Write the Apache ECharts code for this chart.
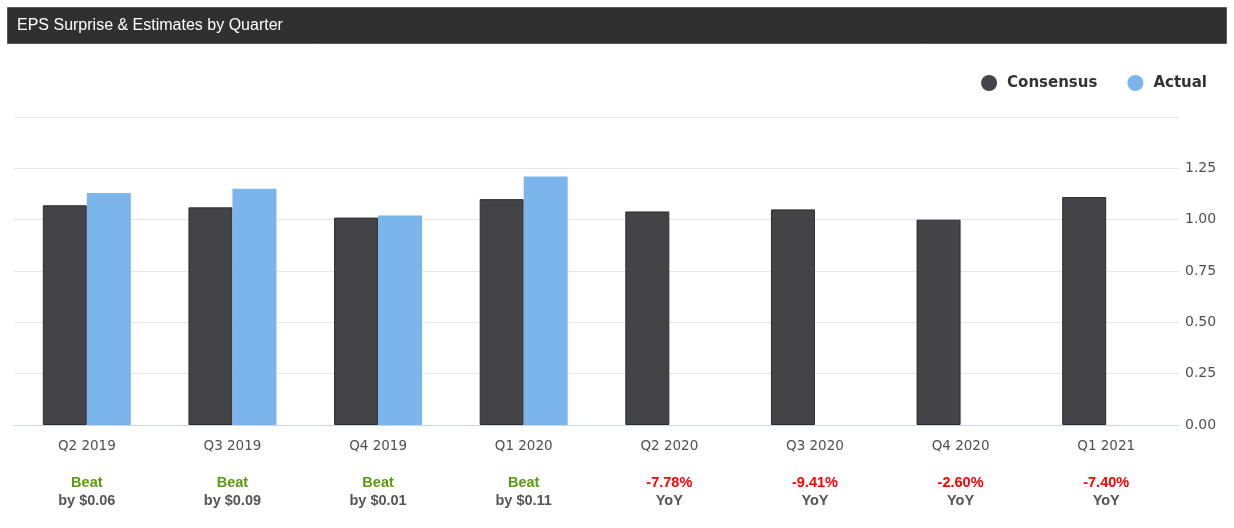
<!DOCTYPE html>
<html>
<head>
<meta charset="utf-8">
<script src="https://cdn.jsdelivr.net/npm/echarts@6/dist/echarts.min.js"></script>
<style>
html,body{margin:0;padding:0;background:#fff;}
#chart{width:1234px;height:528px;}
</style>
</head>
<body>
<div id="chart"></div>
<script>
const categories = ['Q2 2019','Q3 2019','Q4 2019','Q1 2020','Q2 2020','Q3 2020','Q4 2020','Q1 2021'];
const consensus = [1.07, 1.06, 1.01, 1.10, 1.04, 1.05, 1.00, 1.11];
const actual = [1.13, 1.15, 1.02, 1.21, null, null, null, null];
const noteTop = ['Beat','Beat','Beat','Beat','-7.78%','-9.41%','-2.60%','-7.40%'];
const noteBottom = ['by $0.06','by $0.09','by $0.01','by $0.11','YoY','YoY','YoY','YoY'];
const noteKind = ['g','g','g','g','r','r','r','r'];
const yTicks = [0, 0.25, 0.5, 0.75, 1.0, 1.25, 1.5];

const chart = echarts.init(document.getElementById('chart'));
chart.setOption({
  animation: false,
  backgroundColor: '#ffffff',
  graphic: [
    {type:'rect', left:7, top:7, shape:{width:1219, height:36}, style:{fill:'#303030', stroke:'#5a5a5a', lineWidth:1}},
    {type:'text', left:17, top:18, style:{text:'EPS Surprise & Estimates by Quarter', fill:'#ffffff', font:'16px "Liberation Sans", Arial, sans-serif'}}
  ],
  legend: {
    right: 22, top: 70,
    icon: 'circle',
    itemWidth: 16, itemHeight: 16,
    itemGap: 30,
    itemStyle: {borderWidth: 0},
    textStyle: {fontFamily:'"DejaVu Sans", sans-serif', fontWeight:'bold', fontSize:15, color:'#333333', padding:[0,0,0,5]},
    data: ['Consensus','Actual']
  },
  grid: {left:14, right:55, top:117, bottom:103},
  xAxis: {
    type: 'category',
    data: categories,
    axisLine: {lineStyle:{color:'#ccd6eb', width:1}},
    axisTick: {alignWithLabel:true, length:10, lineStyle:{color:'#ccd6eb'}},
    axisLabel: {
      margin: 11,
      interval: 0,
      formatter: function(v, i){ return '{q|' + v + '}\n{sp|}\n{' + noteKind[i] + '|' + noteTop[i] + '}\n{b|' + noteBottom[i] + '}'; },
      rich: {
        q: {fontFamily:'"DejaVu Sans", sans-serif', fontSize:13.5, color:'#505050', lineHeight:20},
        sp: {lineHeight:18, fontSize:10},
        g: {fontFamily:'"Liberation Sans", Arial, sans-serif', fontWeight:'bold', fontSize:14.5, color:'#5a9a0e', lineHeight:18},
        r: {fontFamily:'"Liberation Sans", Arial, sans-serif', fontWeight:'bold', fontSize:14.5, color:'#ff0000', lineHeight:18},
        b: {fontFamily:'"Liberation Sans", Arial, sans-serif', fontWeight:'bold', fontSize:14.5, color:'#555555', lineHeight:18}
      }
    }
  },
  yAxis: {
    type: 'value',
    position: 'right',
    min: yTicks[0], max: yTicks[yTicks.length-1], interval: 0.25,
    axisLine: {show:false},
    axisTick: {show:false},
    splitLine: {lineStyle:{color:'#e6e6e6'}},
    axisLabel: {
      margin: 6,
      fontFamily:'"DejaVu Sans", sans-serif', fontSize:14, color:'#505050',
      formatter: function(v){ return v >= 1.5 ? '' : v.toFixed(2); }
    }
  },
  series: [
    {name:'Consensus', type:'bar', data:consensus, barWidth:44, barGap:'0%', itemStyle:{color:'#434348', borderColor:'#2c2c30', borderWidth:1}},
    {name:'Actual', type:'bar', data:actual, barWidth:44, barGap:'0%', itemStyle:{color:'#7cb5ec'}}
  ]
});
</script>
</body>
</html>
